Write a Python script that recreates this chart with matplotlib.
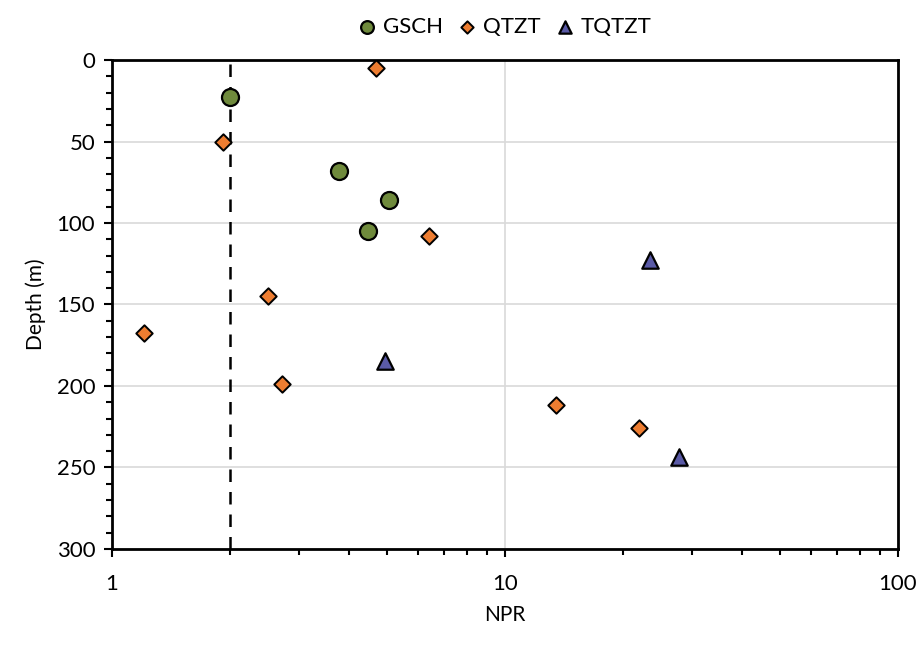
import matplotlib
matplotlib.use("Agg")
import matplotlib.pyplot as plt
from matplotlib.ticker import LogLocator, FixedLocator, MultipleLocator, FuncFormatter

plt.rcParams['font.family'] = ['Lato', 'DejaVu Sans']

gsch_npr = [2.0, 3.78, 5.07, 4.48]
gsch_depth = [22.7, 68.1, 85.9, 104.9]

qtzt_npr = [4.69, 1.92, 6.41, 2.49, 1.21, 2.71, 13.5, 21.9]
qtzt_depth = [4.9, 50.3, 108.0, 144.8, 167.5, 198.8, 211.7, 225.8]

tqtzt_npr = [23.4, 4.95, 27.7]
tqtzt_depth = [122.7, 184.7, 243.6]

threshold_npr = 2.0

fig = plt.figure(figsize=(9.2, 6.46), dpi=100)
ax = fig.add_axes([0.1217, 0.1502, 0.976 - 0.1217, 0.9071 - 0.1502])

ax.set_xscale('log')
ax.set_xlim(1, 100)
ax.set_ylim(300, 0)

ax.grid(True, axis='y', which='major', color='#d9d9d9', lw=1.2, zorder=0)
ax.grid(True, axis='x', which='major', color='#d9d9d9', lw=1.2, zorder=0)
ax.set_axisbelow(True)

ax.axvline(threshold_npr, color='black', lw=1.8, ls=(0, (5, 4)), zorder=2)

ax.scatter(gsch_npr, gsch_depth, marker='o', s=150, color='#6f8a3c', edgecolor='black', lw=1.6, zorder=3, label='GSCH')
ax.scatter(qtzt_npr, qtzt_depth, marker='D', s=70, color='#ed7d31', edgecolor='black', lw=1.4, zorder=3, label='QTZT')
ax.scatter(tqtzt_npr, tqtzt_depth, marker='^', s=140, color='#5a5aa6', edgecolor='black', lw=1.6, zorder=3, label='TQTZT')

ax.yaxis.set_major_locator(MultipleLocator(50))
ax.yaxis.set_minor_locator(MultipleLocator(10))
ax.xaxis.set_major_locator(FixedLocator([1, 10, 100]))
ax.xaxis.set_major_formatter(FuncFormatter(lambda v, p: f"{v:g}"))
ax.xaxis.set_minor_locator(LogLocator(base=10, subs=range(2, 10)))
ax.xaxis.set_minor_formatter(FuncFormatter(lambda v, p: ""))

ax.tick_params(axis='both', which='major', direction='out', length=6, width=1.5, labelsize=16, colors='black')
ax.tick_params(axis='both', which='minor', direction='out', length=4, width=1.5)
ax.tick_params(axis='x', which='major', pad=12)
ax.tick_params(axis='y', which='major', pad=6)

for s in ax.spines.values():
    s.set_color('black')
    s.set_linewidth(2)

ax.set_xlabel('NPR', fontsize=15, labelpad=8)
ax.set_ylabel('Depth (m)', fontsize=15, labelpad=8)

ax.legend(loc='center', bbox_to_anchor=(0.5, 1 + 33 / 489), ncol=3, frameon=False, fontsize=16,
          handlelength=0.8, handletextpad=0.3, columnspacing=0.7, markerscale=0.75, borderaxespad=0.0)

fig.savefig('out.png', dpi=100)
